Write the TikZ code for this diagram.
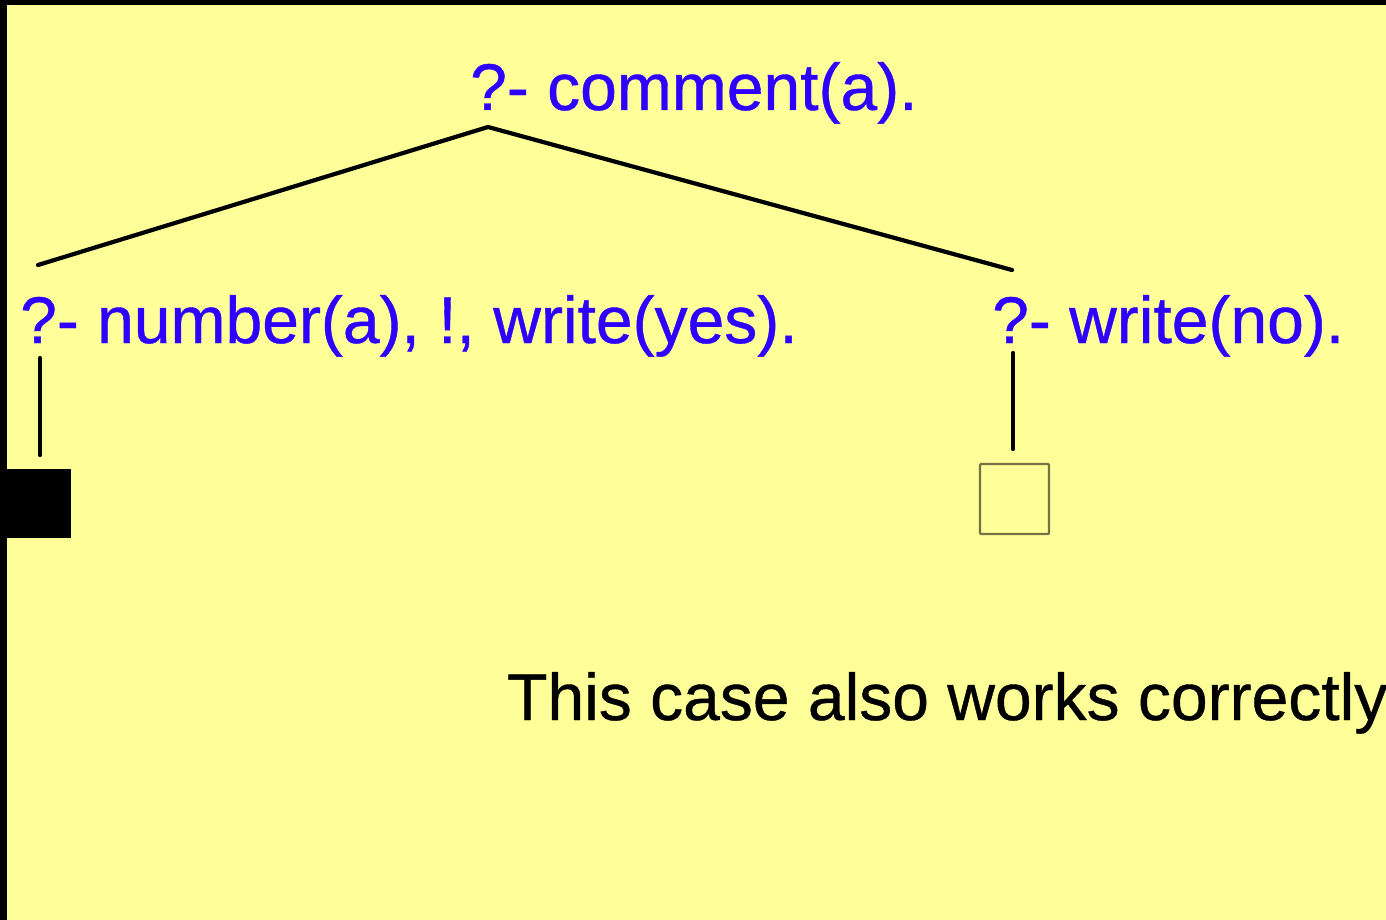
\documentclass[tikz,border=0pt]{standalone}
\usepackage{fontspec}
\setmainfont{Liberation Sans}
\newfontfamily\slidefont{Liberation Sans}[FakeBold=0.6]
\definecolor{bgyellow}{RGB}{255,255,153}
\definecolor{goalblue}{RGB}{45,0,255}
\definecolor{boxedge}{RGB}{115,115,70}
\tikzset{
  goal/.style={anchor=base west, inner sep=0pt, text=goalblue, font=\slidefont\fontsize{66}{79}\selectfont},
  note/.style={anchor=base west, inner sep=0pt, text=black, font=\slidefont\fontsize{66}{79}\selectfont},
  branch/.style={draw=black, line width=4.2pt, line cap=round},
  failbox/.style={fill=black, draw=none},
  succbox/.style={draw=boxedge, line width=2.4pt, fill=none, rounded corners=1pt}
}
\begin{document}
\begin{tikzpicture}[x=1pt,y=-1pt]
\useasboundingbox (0,0) rectangle (1386,920);
\fill[black] (0,0) rectangle (1386,920);
\fill[bgyellow] (7,5) rectangle (1386,920);
\begin{scope}
\clip (0,0) rectangle (1386,920);
\node[goal] (root) at (470,110) {?- comment(a).};
\node[goal] (left) at (20,343) {?- number(a), !, write(yes).};
\node[goal] (right) at (992,343) {?- write(no).};
\node[note] (msg) at (507,720) {This case also works correctly};
\end{scope}
\coordinate (apex) at (488,127);
\coordinate (lefttop) at (38,265);
\coordinate (righttop) at (1012,270);
\coordinate (leftdown) at (40,358);
\coordinate (rightdown) at (1013,353);
\coordinate (leftend) at (40,455);
\coordinate (rightend) at (1013,449);
\node[failbox, minimum width=64pt, minimum height=69pt, inner sep=0pt] (fail) at (39,503.5) {};
\node[succbox, minimum width=69pt, minimum height=70pt, inner sep=0pt] (succ) at (1014.5,499) {};
\draw[branch] (lefttop) -- (apex) -- (righttop);
\draw[branch] (leftdown) -- (leftend);
\draw[branch] (rightdown) -- (rightend);
\fill[black] (0,0) rectangle (7,920);
\end{tikzpicture}
\end{document}
